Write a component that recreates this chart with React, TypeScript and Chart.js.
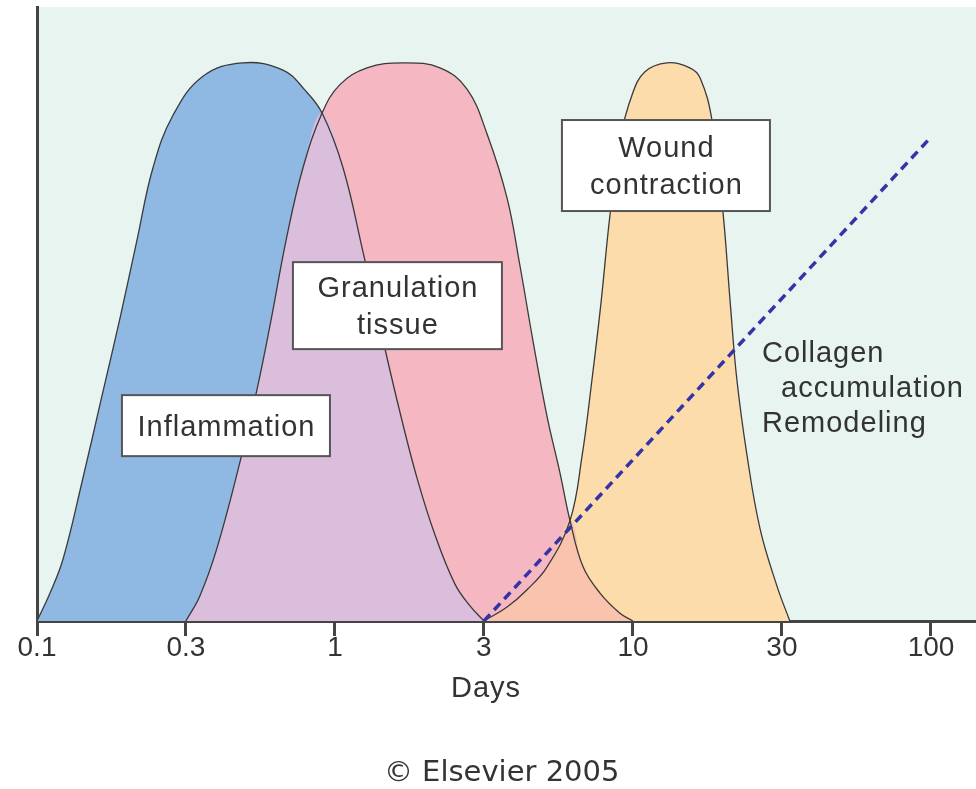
import React, { useEffect, useRef } from "react";
import { Chart, registerables } from "chart.js";

Chart.register(...registerables);

// ---- axis ----
const DAY_TICKS = [0.1, 0.316, 1, 3.16, 10, 31.6, 100];
const DAY_TICK_LABELS = ["0.1", "0.3", "1", "3", "10", "30", "100"];
const X_MIN = 0.1;
const X_MAX = 141.6;
const Y_MIN = 0;
const Y_MAX = 110;
const X_TITLE = "Days";
const CREDIT = "© Elsevier 2005";

// ---- series (days, relative level) ----
const inflammationDays = [0.1, 0.1106, 0.1223, 0.1416, 0.164, 0.19, 0.2166, 0.245, 0.286, 0.3606, 0.491, 0.669, 0.793, 0.905, 1.064, 1.242, 1.449, 1.652, 1.885, 2.166, 2.527, 2.838, 3.16];
const inflammationLevel = [0, 5.0, 11.1, 24.9, 39.6, 54.3, 68.3, 81.2, 90.6, 97.6, 100, 98.7, 95.1, 91.0, 81.2, 66.1, 50.3, 37.4, 25.6, 15.4, 6.6, 2.7, 0];

const granulationDays = [0.316, 0.352, 0.402, 0.48, 0.547, 0.605, 0.69, 0.781, 0.905, 1.039, 1.281, 1.691, 2.251, 2.773, 3.236, 3.778, 4.177, 4.617, 5.145, 5.69, 6.147, 6.8, 7.75, 9.04, 10];
const granulationLevel = [0, 4.5, 13.1, 28.5, 41.4, 52.9, 69.0, 81.2, 91.0, 96.1, 99.1, 100, 99.1, 95.3, 87.3, 75.8, 63.6, 50.2, 36.7, 26.5, 18.0, 9.7, 5.0, 1.4, 0];

const contractionDays = [3.16, 3.78, 4.41, 5.15, 6.147, 6.74, 7.29, 7.81, 8.37, 9.05, 9.92, 10.97, 13.0, 15.5, 16.8, 18.4, 20.0, 21.2, 22.3, 24.1, 26.7, 30.4, 33.6];
const contractionLevel = [0, 2.5, 5.6, 9.7, 18.0, 29.4, 43.4, 57.0, 72.7, 86.2, 94.2, 98.4, 100, 99.1, 97.3, 89.8, 73.8, 57.0, 43.4, 29.9, 16.5, 6.3, 0];

const collagenDays = [3.16, 100];
const collagenLevel = [0, 86.7];

// crossing points
const CROSS_INFL_GRAN = 0.905;
const CROSS_GRAN_CONTR = 6.147;

// ---- labels ----
const BOX_LABELS = [
  { lines: ["Inflammation"], day: 0.4306, level: 35.0 },
  { lines: ["Granulation", "tissue"], day: 1.62, level: 56.5 },
  { lines: ["Wound", "contraction"], day: 12.9, level: 81.6 },
];
const BOX_SIZES = [
  [208, 61],
  [209, 87],
  [208, 91],
];
const COLLAGEN_LINES = ["Collagen", "accumulation", "Remodeling"];
const COLLAGEN_INDENT = [0, 19, 0];
const COLLAGEN_DAY = 27.1;
const COLLAGEN_LEVEL = 46.4;

const FONT = '"Liberation Sans", Arial, sans-serif';
const TEXT_COLOR = "#333333";

const pts = (days: number[], levels: number[]) => days.map((d, i) => ({ x: d, y: levels[i] }));

export default function App() {
  const ref = useRef<HTMLCanvasElement>(null);

  useEffect(() => {
    const infl = pts(inflammationDays, inflammationLevel);
    const gran = pts(granulationDays, granulationLevel);
    const contr = pts(contractionDays, contractionLevel);
    const overlapIG = [...gran.filter((p) => p.x <= CROSS_INFL_GRAN), ...infl.filter((p) => p.x > CROSS_INFL_GRAN)];
    const overlapGC = [...contr.filter((p) => p.x <= CROSS_GRAN_CONTR), ...gran.filter((p) => p.x > CROSS_GRAN_CONTR)];

    const bgPlugin = {
      id: "bg",
      beforeDraw(chart: any) {
        const { ctx, chartArea, width, height } = chart;
        ctx.save();
        ctx.fillStyle = "#ffffff";
        ctx.fillRect(0, 0, width, height);
        ctx.fillStyle = "#e7f4f0";
        ctx.fillRect(chartArea.left, chartArea.top, chartArea.right - chartArea.left, chartArea.bottom - chartArea.top);
        ctx.restore();
      },
    };

    const labelPlugin = {
      id: "labels",
      afterDatasetsDraw(chart: any) {
        const { ctx } = chart;
        const xs = chart.scales.x;
        const ys = chart.scales.y;
        ctx.save();
        ctx.font = `29px ${FONT}`;
        (ctx as any).letterSpacing = "1px";
        ctx.textAlign = "center";
        ctx.textBaseline = "alphabetic";
        BOX_LABELS.forEach((b, i) => {
          const cx = xs.getPixelForValue(b.day);
          const cy = ys.getPixelForValue(b.level);
          const [w, h] = BOX_SIZES[i];
          ctx.fillStyle = "#ffffff";
          ctx.fillRect(cx - w / 2, cy - h / 2, w, h);
          ctx.strokeStyle = "#555555";
          ctx.lineWidth = 2;
          ctx.strokeRect(cx - w / 2, cy - h / 2, w, h);
          ctx.fillStyle = TEXT_COLOR;
          const n = b.lines.length;
          b.lines.forEach((t, j) => {
            ctx.fillText(t, cx + 0.5, cy + 10 + (j - (n - 1) / 2) * 37);
          });
        });
        ctx.textAlign = "left";
        const lx = xs.getPixelForValue(COLLAGEN_DAY);
        const ly = ys.getPixelForValue(COLLAGEN_LEVEL);
        COLLAGEN_LINES.forEach((t, j) => {
          ctx.fillText(t, lx + COLLAGEN_INDENT[j], ly + j * 35);
        });
        ctx.restore();
      },
      afterDraw(chart: any) {
        const { ctx, width, height } = chart;
        ctx.save();
        ctx.fillStyle = TEXT_COLOR;
        ctx.textAlign = "center";
        ctx.textBaseline = "middle";
        ctx.font = `29px ${FONT}`;
        (ctx as any).letterSpacing = "1px";
        ctx.fillText(X_TITLE, width * 0.498, height - 100);
        ctx.font = `29px "DejaVu Sans", Verdana, sans-serif`;
        (ctx as any).letterSpacing = "0px";
        ctx.fillText(CREDIT, width * 0.514, height - 16);
        ctx.restore();
      },
    };

    const outline = "#3a3a3a";
    const common = {
      pointRadius: 0,
      tension: 0.4,
      fill: "origin",
    };
    const chart = new Chart(ref.current as HTMLCanvasElement, {
      type: "line",
      data: {
        datasets: [
          {
            label: "Collagen accumulation / Remodeling",
            data: pts(collagenDays, collagenLevel),
            borderColor: "#3434a8",
            borderWidth: 3.5,
            borderDash: [9, 6],
            fill: false,
            pointRadius: 0,
            order: 1,
          },
          {
            ...common,
            label: "Inflammation ∩ Granulation",
            data: overlapIG,
            borderColor: "rgba(0,0,0,0)",
            backgroundColor: "#dbbddc",
            borderWidth: 1,
            order: 2,
          },
          {
            ...common,
            label: "Granulation ∩ Contraction",
            data: overlapGC,
            borderColor: "rgba(0,0,0,0)",
            backgroundColor: "#f9c3ad",
            borderWidth: 1,
            order: 2,
          },
          {
            ...common,
            label: "Inflammation",
            data: infl,
            borderColor: outline,
            backgroundColor: "#8fb9e3",
            borderWidth: 1.3,
            order: 3,
          },
          {
            ...common,
            label: "Granulation tissue",
            data: gran,
            borderColor: outline,
            backgroundColor: "#f5b7c2",
            borderWidth: 1.3,
            order: 3,
          },
          {
            ...common,
            label: "Wound contraction",
            data: contr,
            borderColor: outline,
            backgroundColor: "#fcdcab",
            borderWidth: 1.3,
            order: 3,
          },
        ],
      },
      options: {
        responsive: false,
        animation: false,
        events: [],
        layout: { padding: { top: 7, left: 0, right: 0, bottom: 0 } },
        plugins: {
          legend: { display: false },
          tooltip: { enabled: false },
          title: { display: false },
          filler: { drawTime: "beforeDatasetsDraw" },
        },
        scales: {
          x: {
            type: "logarithmic",
            min: X_MIN,
            max: X_MAX,
            z: 1,
            afterBuildTicks: (axis: any) => {
              axis.ticks = DAY_TICKS.map((v) => ({ value: v }));
            },
            afterFit: (axis: any) => {
              axis.height = 789 - 621;
            },
            ticks: {
              autoSkip: false,
              maxRotation: 0,
              padding: -5,
              color: TEXT_COLOR,
              font: { family: FONT, size: 28 },
              callback: (_v: any, i: number) => DAY_TICK_LABELS[i],
            },
            grid: {
              display: true,
              drawOnChartArea: false,
              drawTicks: true,
              tickLength: 15,
              tickWidth: 3,
              tickColor: "#444444",
            },
            border: { display: true, color: "#444444", width: 3 },
          },
          y: {
            type: "linear",
            min: Y_MIN,
            max: Y_MAX,
            z: 1,
            afterFit: (axis: any) => {
              axis.width = 37;
            },
            ticks: { display: false },
            grid: { display: false },
            border: { display: true, color: "#444444", width: 3 },
          },
        },
      } as any,
      plugins: [bgPlugin, labelPlugin],
    });
    return () => chart.destroy();
  }, []);

  return (
    <div style={{ position: "fixed", left: 0, top: 0, width: 976, height: 789, background: "#fff" }}>
      <canvas ref={ref} width={976} height={789} style={{ display: "block", width: 976, height: 789 }} />
    </div>
  );
}
